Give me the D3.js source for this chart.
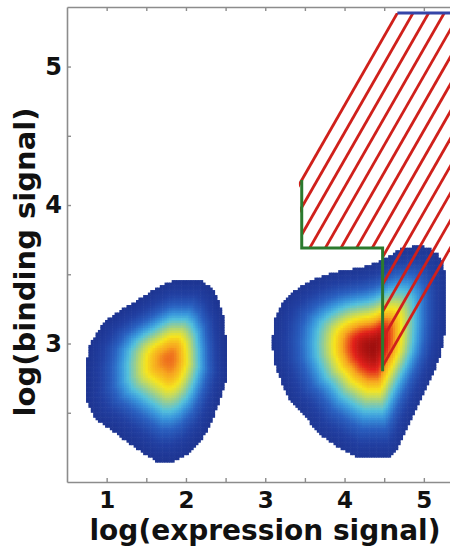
<!DOCTYPE html>
<html><head><meta charset="utf-8">
<script src="https://cdn.jsdelivr.net/npm/d3@7"></script>
<style>html,body{margin:0;padding:0;background:#fff;overflow:hidden}</style>
</head><body>
<svg id="chart" width="450" height="547"></svg>
<script>
// ---------- data ----------
const xTicks = [1, 2, 3, 4, 5];
const xMinorTicks = [1.5, 2.5, 3.5, 4.5];
const yTicks = [3, 4, 5];
const yMinorTicks = [2.5, 3.5, 4.5];
const xLabel = "log(expression signal)";
const yLabel = "log(binding signal)";

// outline (density threshold contour) of each population, data coords
const leftBlobOutline = [[1.862,3.458],[2.202,3.458],[2.341,3.386],[2.455,3.242],[2.505,3.025],[2.518,2.773],[2.429,2.592],[2.329,2.448],[2.215,2.325],[2.001,2.195],[1.824,2.144],[1.635,2.144],[1.231,2.303],[0.853,2.462],[0.740,2.592],[0.727,2.809],[0.790,3.004],[0.954,3.148],[1.168,3.242],[1.383,3.314],[1.584,3.386],[1.774,3.444]];
const leftBlobPeak = [1.80, 2.895];
const leftBlobMax = 0.80;

const rightBlobOutline = [[3.085,3.025],[3.123,3.184],[3.211,3.300],[3.375,3.386],[3.564,3.451],[3.779,3.502],[4.006,3.531],[4.220,3.552],[4.384,3.581],[4.510,3.617],[4.699,3.682],[4.914,3.711],[5.052,3.697],[5.166,3.653],[5.241,3.581],[5.279,3.458],[5.279,3.242],[5.254,3.061],[5.204,2.917],[5.103,2.773],[4.951,2.592],[4.800,2.412],[4.674,2.253],[4.573,2.173],[4.170,2.173],[3.980,2.231],[3.665,2.354],[3.438,2.520],[3.312,2.592],[3.211,2.715],[3.110,2.866]];
const rightBlobPeak = [4.36, 2.975];
const rightBlobMax = 0.97;

// gate lines
const gateLine = [[3.46,4.18],[3.46,3.69],[4.48,3.69],[4.48,2.80]];
const hatchRegion = [[3.46,3.69],[3.46,4.18],[4.666,5.386],[5.6,5.386],[5.6,3.91],[4.48,2.79],[4.48,3.69]];
const hatchOffsets = [0.72,0.523,0.326,0.129,-0.068,-0.265,-0.462,-0.659,-0.856,-1.053,-1.25,-1.447,-1.644]; // lines y = x + c
const topLine = [[4.666,5.386],[5.5,5.386]];

// colour ramp (jet-like)
const rampStops = [0, 0.12, 0.22, 0.32, 0.40, 0.48, 0.56, 0.64, 0.75, 0.87, 1.0];
const rampColors = ["#1b2d86","#2240a2","#2a60c0","#3996dc","#54c1dc","#8ccb9f","#c4da5e","#f6e51e","#f7a51f","#e2211b","#8c0b0b"];

// ---------- layout ----------
const svg = d3.select("#chart");
const x = d3.scaleLinear().domain([0.5, 5.5]).range([67, 463.5]);
const y = d3.scaleLinear().domain([2, 5.43]).range([482, 7]);
const color = d3.scaleLinear().domain(rampStops).range(rampColors).interpolate(d3.interpolateRgb).clamp(true);

const plot = svg.append("g");
const defs = svg.append("defs");
defs.append("clipPath").attr("id","plotclip")
  .append("rect").attr("x",67).attr("y",7).attr("width",400).attr("height",475);

// ---------- density image ----------
function rayDist(P, d, poly) {
  let best = Infinity;
  const n = poly.length;
  for (let i = 0; i < n; i++) {
    const A = poly[i], B = poly[(i+1)%n];
    const e0 = B[0]-A[0], e1 = B[1]-A[1];
    const D = d[1]*e0 - d[0]*e1;
    if (Math.abs(D) < 1e-12) continue;
    const w0 = A[0]-P[0], w1 = A[1]-P[1];
    const s = (e0*w1 - e1*w0)/D;
    const u = (d[0]*w1 - d[1]*w0)/D;
    if (s > 0 && u >= -1e-9 && u <= 1+1e-9 && s < best) best = s;
  }
  return best;
}
const blobs = [
  {outline: leftBlobOutline, peak: leftBlobPeak, max: leftBlobMax},
  {outline: rightBlobOutline, peak: rightBlobPeak, max: rightBlobMax}
].map(b => ({
  poly: b.outline.map(p => [x(p[0]), y(p[1])]),
  P: [x(b.peak[0]), y(b.peak[1])],
  max: b.max
}));

const dxStep = 0.03, dyStep = 0.018;
const cells = [];
for (let gx = 0.5; gx < 5.5; gx += dxStep) {
  for (let gy = 2; gy < 5.43; gy += dyStep) {
    const cx = x(gx + dxStep/2), cy = y(gy + dyStep/2);
    for (const b of blobs) {
      if (!d3.polygonContains(b.poly, [cx, cy])) continue;
      const vx = cx - b.P[0], vy = cy - b.P[1];
      const r = Math.hypot(vx, vy);
      let t = 0;
      if (r > 1e-6) {
        const R = rayDist(b.P, [vx/r, vy/r], b.poly);
        t = Math.min(1, r / R);
      }
      const v = b.max * Math.exp(-(t/0.6)*(t/0.6));
      cells.push({gx, gy, v});
      break;
    }
  }
}
plot.append("g").attr("clip-path","url(#plotclip)")
  .selectAll("rect").data(cells).join("rect")
  .attr("x", d => x(d.gx))
  .attr("y", d => y(d.gy + dyStep))
  .attr("width", x(dxStep) - x(0) + 0.6)
  .attr("height", y(0) - y(dyStep) + 0.6)
  .attr("fill", d => color(d.v));

// ---------- hatch region ----------
const clipPts = hatchRegion.map(p => [x(p[0]), y(p[1])]);
clipPts[1] = [clipPts[1][0]-3, clipPts[1][1]];
clipPts[2] = [clipPts[2][0]-3, clipPts[2][1]];
defs.append("clipPath").attr("id","hatchclip")
  .append("polygon").attr("points", clipPts.map(p => p.join(",")).join(" "));
plot.append("g").attr("clip-path","url(#hatchclip)")
  .selectAll("line").data(hatchOffsets).join("line")
  .attr("x1", c => x(2.5)).attr("y1", c => y(2.5 + c))
  .attr("x2", c => x(6.5)).attr("y2", c => y(6.5 + c))
  .attr("stroke", "#d0201b").attr("stroke-width", 2.8);

const line = d3.line().x(d => x(d[0])).y(d => y(d[1]));
plot.append("path").datum(gateLine).attr("d", line)
  .attr("fill","none").attr("stroke","#2b7a2e").attr("stroke-width",3);
plot.append("path").datum(topLine).attr("d", line)
  .attr("fill","none").attr("stroke","#3545a8").attr("stroke-width",3);

// ---------- axes ----------
const axisColor = "#8c8c8c";
const xAll = xTicks.concat(xMinorTicks).sort((a,b)=>a-b);
const yAll = yTicks.concat(yMinorTicks).sort((a,b)=>a-b);

const gx = svg.append("g").attr("transform","translate(0,482)")
  .call(d3.axisBottom(x).tickValues(xAll).tickFormat(d => xTicks.includes(d) ? String(d) : "").tickSizeInner(-4).tickSizeOuter(0).tickPadding(10));
const gt = svg.append("g").attr("transform","translate(0,7)")
  .call(d3.axisTop(x).tickValues(xAll).tickFormat("").tickSizeInner(-4).tickSizeOuter(0));
const gy = svg.append("g").attr("transform","translate(67,0)")
  .call(d3.axisLeft(y).tickValues(yAll).tickFormat(d => yTicks.includes(d) ? String(d) : "").tickSizeInner(-4).tickSizeOuter(0).tickPadding(5));

[gx, gt, gy].forEach(g => {
  g.select(".domain").attr("stroke", axisColor).attr("stroke-width", 1.6);
  g.selectAll(".tick line").attr("stroke", axisColor).attr("stroke-width", 1.4);
  g.selectAll(".tick text").attr("fill","#111")
    .style("font-family","'DejaVu Sans', Verdana, sans-serif")
    .style("font-weight","bold").style("font-size","24px");
});
gx.selectAll(".tick text").style("font-size","23px");

svg.append("text").attr("x", 265).attr("y", 540)
  .attr("text-anchor","middle")
  .style("font-family","'DejaVu Sans', Verdana, sans-serif")
  .style("font-weight","bold").style("font-size","28px").attr("fill","#111")
  .text(xLabel);
svg.append("text").attr("transform","translate(35,262) rotate(-90)")
  .attr("text-anchor","middle")
  .style("font-family","'DejaVu Sans', Verdana, sans-serif")
  .style("font-weight","bold").style("font-size","29px").attr("fill","#111")
  .text(yLabel);
</script>
</body></html>
